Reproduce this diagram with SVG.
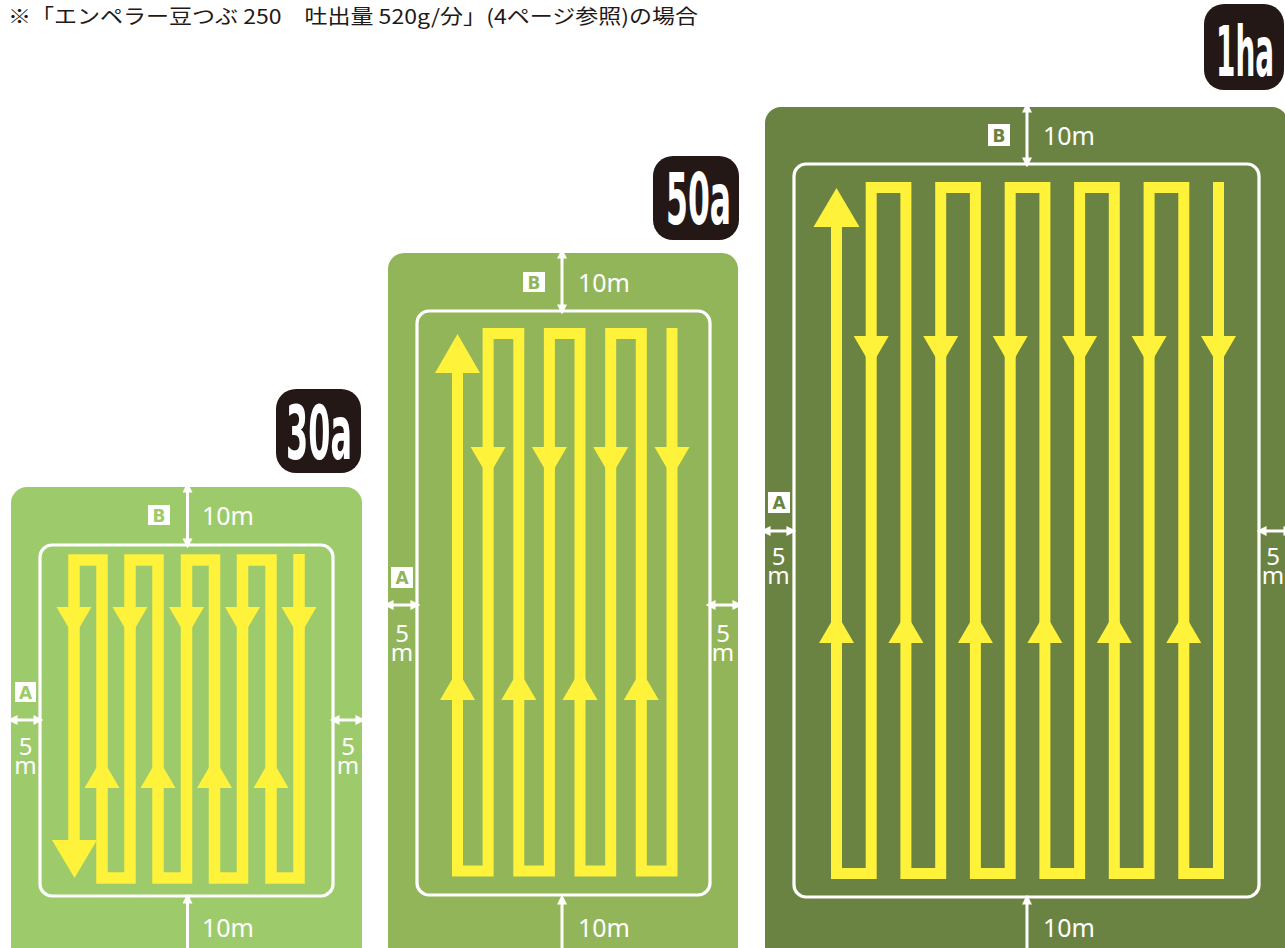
<svg xmlns="http://www.w3.org/2000/svg" width="1285" height="948" viewBox="0 0 1285 948">
<style>
.hdr{font-family:"Noto Sans CJK JP","Noto Sans",sans-serif;font-size:20px;fill:#231815}
.badge{fill:#231815}
.bt{font-family:"DejaVu Sans","Liberation Sans",sans-serif;font-weight:bold;fill:#ffffff}
.inner{fill:none;stroke:#ffffff;stroke-width:3.2}
.trk{fill:none;stroke:#fff23b;stroke-width:11.5;stroke-linejoin:miter;stroke-linecap:butt}
.yh{fill:#fff23b}
.dim{stroke:#ffffff;stroke-width:3;fill:none;marker-start:url(#wh);marker-end:url(#wh)}
.lbl{font-family:"Noto Sans","Liberation Sans",sans-serif;font-size:25px;fill:#ffffff}
.vl{font-family:"Noto Sans","Liberation Sans",sans-serif;font-size:24px;fill:#ffffff;writing-mode:vertical-rl;text-orientation:upright;letter-spacing:-14px}
.box{fill:#ffffff}
.kt{font-family:"DejaVu Sans","Liberation Sans",sans-serif;font-weight:bold;font-size:17px;text-anchor:middle}
</style>
<defs>
<marker id="wh" markerUnits="userSpaceOnUse" markerWidth="10" markerHeight="10" viewBox="0 0 9 9" refX="5" refY="4.5" orient="auto-start-reverse">
<path d="M0,0 L9,4.5 L0,9 z" fill="#ffffff"/>
</marker>
<polygon id="dn" points="-17.5,0 17.5,0 0,30"/>
<polygon id="up" points="0,-30 -17.5,0 17.5,0"/>
</defs>
<rect width="1285" height="948" fill="#ffffff"/>

<g id="header">
<text class="hdr" x="8" y="24" textLength="690" lengthAdjust="spacingAndGlyphs">※「エンペラー豆つぶ 250　吐出量 520g/分」(4ページ参照)の場合</text>
</g>

<!-- 30a -->
<g id="field-30a">
<rect x="11" y="487" width="351" height="480" rx="16" fill="#9dcb6c"/>
<rect class="inner" x="40" y="545" width="293" height="351" rx="12"/>
<path class="trk" d="M299,554 V878 H271 V560 H242.5 V878 H214.5 V560 H186.5 V878 H158 V560 H130 V878 H102 V560 H74 V842"/>
<polygon class="yh" points="52,840 97,840 74.5,878"/>
<g class="yh">
<use href="#dn" x="74" y="607"/><use href="#dn" x="130" y="607"/><use href="#dn" x="186.5" y="607"/><use href="#dn" x="242.5" y="607"/><use href="#dn" x="299" y="607"/>
<use href="#up" x="102" y="788"/><use href="#up" x="158" y="788"/><use href="#up" x="214.5" y="788"/><use href="#up" x="271" y="788"/>
</g>
</g>
<g id="badge-30a">
<rect class="badge" x="276" y="389" width="85" height="84" rx="20"/>
<text class="bt" font-size="74" transform="translate(286,459) scale(0.431,1)">30a</text>
</g>

<!-- 50a -->
<g id="field-50a">
<rect x="388" y="253" width="350" height="715" rx="16" fill="#93b55a"/>
<rect class="inner" x="417" y="311" width="293" height="584" rx="12"/>
<path class="trk" style="stroke-width:11" d="M672,328 V871 H641.3 V333.5 H610.7 V871 H580 V333.5 H549.4 V871 H518.8 V333.5 H488.1 V871 H457.5 V372"/>
<polygon class="yh" points="457.5,334 435,373 480,373"/>
<g class="yh">
<use href="#dn" x="488.1" y="447"/><use href="#dn" x="549.4" y="447"/><use href="#dn" x="610.7" y="447"/><use href="#dn" x="672" y="447"/>
<use href="#up" x="457.5" y="700"/><use href="#up" x="518.8" y="700"/><use href="#up" x="580" y="700"/><use href="#up" x="641.3" y="700"/>
</g>
</g>
<g id="badge-50a">
<rect class="badge" x="653" y="156" width="86" height="84" rx="20"/>
<text class="bt" font-size="71" transform="translate(666,224) scale(0.443,1)">50a</text>
</g>

<!-- 1ha -->
<g id="field-1ha">
<rect x="765" y="107" width="523" height="860" rx="16" fill="#6a8342"/>
<rect class="inner" x="794" y="164" width="465" height="733" rx="12"/>
<path class="trk" style="stroke-width:11" d="M1218.5,182 V873.5 H1183.8 V187.5 H1149.1 V873.5 H1114.3 V187.5 H1079.6 V873.5 H1044.9 V187.5 H1010.2 V873.5 H975.4 V187.5 H940.7 V873.5 H905.9 V187.5 H871.2 V873.5 H836.5 V226"/>
<polygon class="yh" points="836.5,188 813.5,227 859.5,227"/>
<g class="yh">
<use href="#dn" x="871.2" y="336"/><use href="#dn" x="940.7" y="336"/><use href="#dn" x="1010.2" y="336"/><use href="#dn" x="1079.6" y="336"/><use href="#dn" x="1149.1" y="336"/><use href="#dn" x="1218.5" y="336"/>
<use href="#up" x="836.5" y="643"/><use href="#up" x="905.9" y="643"/><use href="#up" x="975.4" y="643"/><use href="#up" x="1044.9" y="643"/><use href="#up" x="1114.3" y="643"/><use href="#up" x="1183.8" y="643"/>
</g>
</g>
<g id="badge-1ha">
<rect class="badge" x="1204" y="4" width="80" height="86" rx="20"/>
<text class="bt" font-size="70" transform="translate(1216,76) scale(0.398,1)">1ha</text>
</g>

<g id="connectors">
<line class="dim" x1="187.5" y1="487" x2="187.5" y2="544"/>
<line class="dim" x1="187.5" y1="898" x2="187.5" y2="956"/>
<line class="dim" x1="12" y1="720" x2="39" y2="720"/>
<line class="dim" x1="334" y1="720" x2="361" y2="720"/>
<line class="dim" x1="562" y1="253" x2="562" y2="310"/>
<line class="dim" x1="562" y1="899" x2="562" y2="956"/>
<line class="dim" x1="388" y1="605" x2="416" y2="605"/>
<line class="dim" x1="710" y1="605" x2="738" y2="605"/>
<line class="dim" x1="1027" y1="107" x2="1027" y2="163"/>
<line class="dim" x1="1027" y1="899" x2="1027" y2="956"/>
<line class="dim" x1="765" y1="531" x2="792" y2="531"/>
<line class="dim" x1="1261" y1="531" x2="1289" y2="531"/>
</g>

<g id="labels-30a">
<rect class="box" x="148" y="505" width="22" height="20"/>
<text class="kt" x="159" y="521.5" fill="#9dcb6c">B</text>
<text class="lbl" x="202" y="525">10m</text>
<text class="lbl" x="202" y="937">10m</text>
<rect class="box" x="15" y="682" width="21" height="20"/>
<text class="kt" x="25.5" y="698.5" fill="#9dcb6c">A</text>
<text class="vl" x="25.5" y="729">5m</text>
<text class="vl" x="348" y="729">5m</text>
</g>
<g id="labels-50a">
<rect class="box" x="523" y="272" width="22" height="20"/>
<text class="kt" x="534" y="288.5" fill="#93b55a">B</text>
<text class="lbl" x="578" y="292">10m</text>
<text class="lbl" x="578" y="937">10m</text>
<rect class="box" x="391" y="567" width="22" height="21"/>
<text class="kt" x="402" y="584" fill="#93b55a">A</text>
<text class="vl" x="402" y="616">5m</text>
<text class="vl" x="723" y="616">5m</text>
</g>
<g id="labels-1ha">
<rect class="box" x="988" y="124" width="22" height="22"/>
<text class="kt" x="999" y="141.5" fill="#6a8342">B</text>
<text class="lbl" x="1043" y="145">10m</text>
<text class="lbl" x="1043" y="937">10m</text>
<rect class="box" x="768" y="492" width="22" height="21"/>
<text class="kt" x="779" y="509" fill="#6a8342">A</text>
<text class="vl" x="778.5" y="539">5m</text>
<text class="vl" x="1273" y="539">5m</text>
</g>
</svg>
